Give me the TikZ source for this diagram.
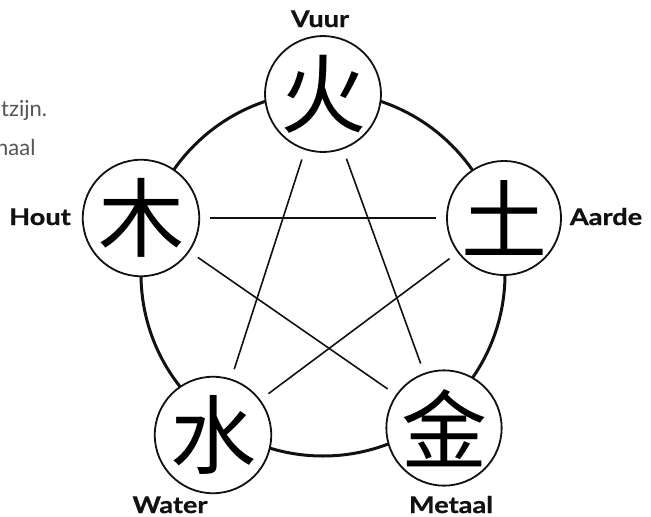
\documentclass[tikz,border=0pt]{standalone}
\usepackage{fontspec}
\newfontfamily\labelfont[FakeStretch=1.18,BoldFeatures={FakeBold=0.8}]{Lato}
\newfontfamily\notefont{Lato}
\newfontfamily\cjk{Noto Sans CJK SC}
\definecolor{Ink}{HTML}{111111}
\definecolor{NoteGray}{HTML}{555555}

\begin{document}
\begin{tikzpicture}[x=1pt,y=-1pt,
    element/.style={circle,draw=Ink,fill=white,line width=1.8pt,minimum size=111pt,
                    inner sep=0pt,font=\cjk\fontsize{86}{86}\selectfont},
    starline/.style={Ink,line width=1.6pt,shorten <=10pt,shorten >=10pt},
    elabel/.style={anchor=base,inner sep=1pt,text=Ink,font=\labelfont\bfseries\fontsize{23}{23}\selectfont},
    note/.style={anchor=base west,inner sep=0pt,text=NoteGray,font=\notefont\fontsize{22}{22}\selectfont}]
  \useasboundingbox (0,0) rectangle (651,517);
  \clip (0,0) rectangle (651,517);

  % cycle
  \draw[Ink,line width=3pt] (323,274) circle[radius=182pt];

  \foreach \name/\x/\y/\ch in {fire/323/94/火,earth/504/218/土,metal/444/428/金,
                               water/213/435/水,wood/141/218/木} {
    \node[element] (\name) at (\x,\y) {\ch};
  }

  % star
  \foreach \a/\b in {wood/earth,wood/metal,earth/water,fire/water,fire/metal} {
    \draw[starline] (\a) -- (\b);
  }

  \node[elabel] (vuur)   at (320,27)  {Vuur};
  \node[elabel] (aarde)  at (606,225) {Aarde};
  \node[elabel] (metaal) at (451,513) {Metaal};
  \node[elabel] (waterlabel) at (170,513) {Water};
  \node[elabel] (hout)   at (40,225)  {Hout};

  \node[note] (noteone) at (1,116) {tzijn.};
  \node[note] (notetwo) at (-4,155) {naal};
\end{tikzpicture}
\end{document}
